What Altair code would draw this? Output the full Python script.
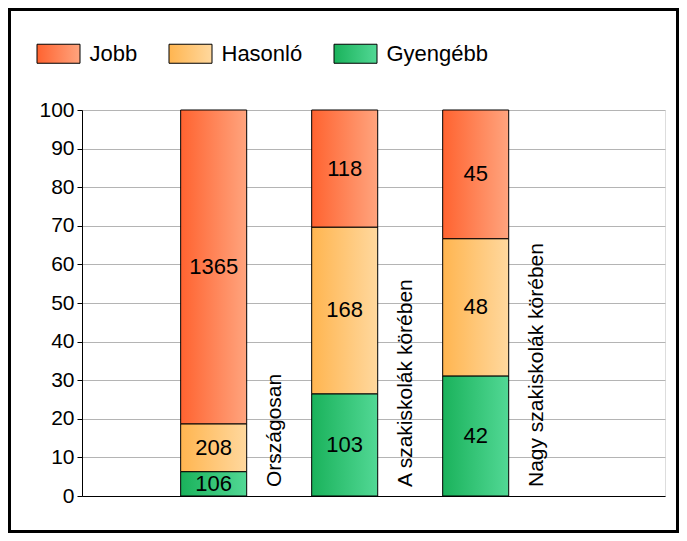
import altair as alt
import pandas as pd

categories = ["Országosan", "A szakiskolák körében", "Nagy szakiskolák körében"]
series = ["Jobb", "Hasonló", "Gyengébb"]
jobb = [1365, 118, 45]
hasonlo = [208, 168, 48]
gyengebb = [106, 103, 42]
yticks = [0, 10, 20, 30, 40, 50, 60, 70, 80, 90, 100]

# gradient colours (left -> right) per series
grad = {
    "Jobb": ("#FF6330", "#FFA47E"),
    "Hasonló": ("#FFB550", "#FFD89E"),
    "Gyengébb": ("#1AB25B", "#52D895"),
}

rows = []
for i, c in enumerate(categories):
    for rank, (s, vals) in enumerate([("Gyengébb", gyengebb), ("Hasonló", hasonlo), ("Jobb", jobb)]):
        rows.append({"cat": c, "series": s, "count": vals[i], "rank": rank})
df = pd.DataFrame(rows)


def gexpr(a, b):
    return {"expr": "{gradient: 'linear', x1: 0, y1: 0, x2: 1, y2: 0, stops: [{offset: 0, color: '%s'}, {offset: 1, color: '%s'}]}" % (a, b)}


color_range = [gexpr(*grad[s]) for s in series]

FONT = "Liberation Sans"

base = alt.Chart(df).transform_joinaggregate(
    total="sum(count)", groupby=["cat"]
).transform_calculate(
    pct="datum.count / datum.total * 100"
).transform_stack(
    stack="pct", groupby=["cat"], as_=["y0", "y1"], sort=[alt.SortField("rank", order="ascending")]
).transform_calculate(
    mid="(datum.y0 + datum.y1) / 2", zero="0"
)

xenc = alt.X(
    "cat:N",
    sort=categories,
    scale=alt.Scale(paddingInner=0.496, paddingOuter=0.973, align=0.387),
    axis=alt.Axis(labels=False, ticks=False, title=None, domainColor="black", grid=False),
)

yscale = alt.Scale(domain=[0, 100], nice=False)
yaxis = alt.Axis(
    values=yticks, title=None, labelFontSize=21, labelFont=FONT, labelColor="black",
    tickColor="black", tickSize=5, domainColor="black", gridColor="#b4b4b4",
    labelPadding=3, labelOverlap=False,
)

bars = base.mark_bar(stroke="black", strokeWidth=1).encode(
    x=xenc,
    y=alt.Y("y0:Q", scale=yscale, axis=yaxis),
    y2="y1:Q",
    color=alt.Color(
        "series:N",
        scale=alt.Scale(domain=series, range=color_range),
        legend=alt.Legend(
            orient="none", legendX=-45.5, legendY=-78.5, direction="horizontal", title=None,
            labelFont=FONT, labelFontSize=22, labelColor="black",
            symbolType="M-1,-0.442H1V0.442H-1Z", symbolSize=1849,
            symbolStrokeColor="black", symbolStrokeWidth=1, symbolOpacity=1,
            columnPadding=29, labelOffset=9, padding=0, labelLimit=300,
        ),
    ),
    order=alt.Order("rank:Q"),
)

values = base.mark_text(fontSize=22, font=FONT, color="black", baseline="middle", align="center").encode(
    x=xenc,
    y=alt.Y("mid:Q", scale=yscale, axis=yaxis),
    text=alt.Text("count:Q"),
)

catlabels = base.transform_filter("datum.rank == 0").mark_text(
    angle=270, align="left", baseline="alphabetic", fontSize=21, font=FONT, color="black", dx=9, dy=67
).encode(
    x=xenc,
    y=alt.Y("zero:Q", scale=yscale, axis=yaxis),
    text="cat:N",
)

frame = alt.Chart(alt.Data(values=[{"f": 1}])).mark_rect(
    fillOpacity=0, stroke="black", strokeWidth=3
).encode(
    x=alt.value(-72.5), x2=alt.value(595.5), y=alt.value(-100.5), y2=alt.value(421.5)
)

chart = alt.layer(frame, bars, values, catlabels).properties(
    width=583, height=386,
    padding={"left": 74, "top": 102, "right": 14, "bottom": 37},
    autosize=alt.AutoSizeParams(type="none"),
).configure_view(stroke=None).configure(background="white")

chart.save("out.html", embed_options={"renderer": "svg", "actions": False})
